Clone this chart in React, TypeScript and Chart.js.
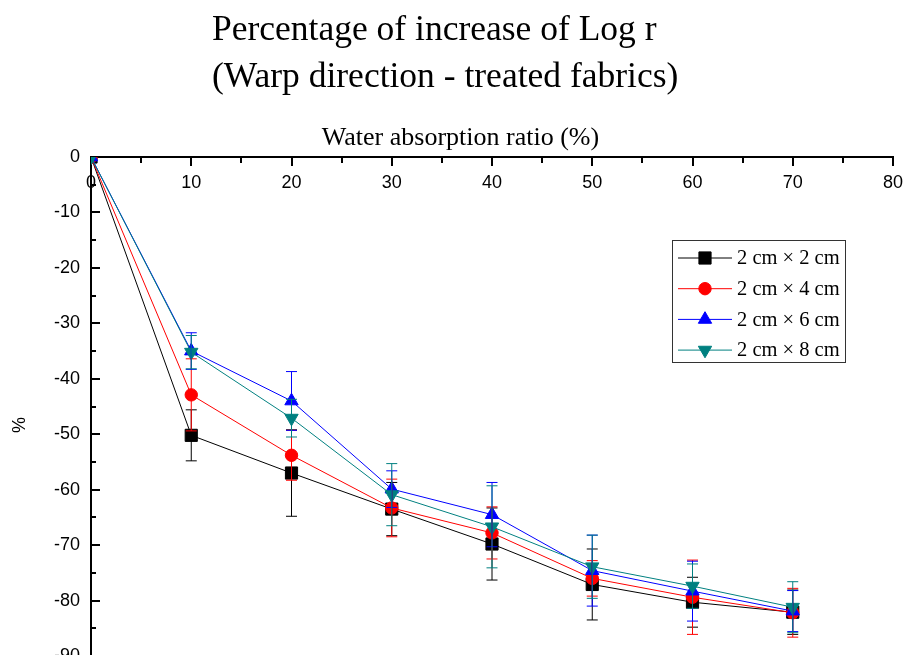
import React, { useEffect, useRef } from 'react';
import { Chart, registerables } from 'chart.js';

Chart.register(...registerables);

// ---- data ----
const xValues = [0, 10, 20, 30, 40, 50, 60, 70];
const xTickValues = [0, 10, 20, 30, 40, 50, 60, 70, 80];

const names = ['2 cm \u00d7 2 cm', '2 cm \u00d7 4 cm', '2 cm \u00d7 6 cm', '2 cm \u00d7 8 cm'];

const values2x2 = [0, -50.2, -57.0, -63.5, -69.8, -77.1, -80.3, -82.1];
const errors2x2 = [0, 4.6, 7.8, 4.8, 6.5, 6.4, 4.5, 4.0];

const values2x4 = [0, -42.9, -53.8, -63.3, -67.8, -76.0, -79.4, -82.2];
const errors2x4 = [0, 6.5, 4.5, 5.2, 4.7, 3.2, 6.7, 4.4];

const values2x6 = [0, -35.0, -44.0, -59.9, -64.5, -74.6, -78.3, -81.9];
const errors2x6 = [0, 3.3, 5.3, 3.3, 5.8, 6.4, 5.4, 3.7];

const values2x8 = [0, -35.2, -47.1, -60.9, -66.7, -73.9, -77.4, -81.2];
const errors2x8 = [0, 3.0, 3.4, 5.6, 7.4, 5.7, 4.0, 4.6];

const titleLines = ['Percentage of increase of Log r', '(Warp direction - treated fabrics)'];
const xAxisTitle = 'Water absorption ratio (%)';
const yAxisTitle = '%';

// ---- styles ----
const series = [
  { name: names[0], values: values2x2, errors: errors2x2, color: '#000000', style: 'rect', radius: 8.6, rotation: 0 },
  { name: names[1], values: values2x4, errors: errors2x4, color: '#ff0000', style: 'circle', radius: 6.2, rotation: 0 },
  { name: names[2], values: values2x6, errors: errors2x6, color: '#0000ff', style: 'triangle', radius: 7.7, rotation: 0 },
  { name: names[3], values: values2x8, errors: errors2x8, color: '#008080', style: 'triangle', radius: 7.7, rotation: 180 },
];

const SERIF = "'Liberation Serif', 'Times New Roman', serif";
const SANS = "'Liberation Sans', Arial, sans-serif";

function drawMarker(ctx: CanvasRenderingContext2D, style: string, x: number, y: number, r: number, rotation: number, color: string) {
  ctx.save();
  ctx.fillStyle = color;
  ctx.strokeStyle = color;
  ctx.lineWidth = 1;
  ctx.beginPath();
  if (style === 'rect') {
    const s = Math.SQRT1_2 * r;
    ctx.rect(x - s, y - s, 2 * s, 2 * s);
  } else if (style === 'circle') {
    ctx.arc(x, y, r, 0, Math.PI * 2);
  } else {
    const rad0 = (rotation * Math.PI) / 180;
    for (let k = 0; k < 3; k++) {
      const a = rad0 + (k * 2 * Math.PI) / 3;
      const px = x + Math.sin(a) * r;
      const py = y - Math.cos(a) * r;
      if (k === 0) ctx.moveTo(px, py);
      else ctx.lineTo(px, py);
    }
    ctx.closePath();
  }
  ctx.fill();
  ctx.stroke();
  ctx.restore();
}

const decorPlugin = {
  id: 'decor',
  afterDatasetsDraw(chart: any) {
    const { ctx, scales } = chart;
    const xs = scales.x;
    const ys = scales.y;
    ctx.save();
    ctx.lineWidth = 1;
    series.forEach((s) => {
      ctx.strokeStyle = s.color;
      xValues.forEach((xv, i) => {
        const e = s.errors[i];
        if (!e) return;
        const x = xs.getPixelForValue(xv);
        const yTop = ys.getPixelForValue(s.values[i] + e);
        const yBot = ys.getPixelForValue(s.values[i] - e);
        ctx.beginPath();
        ctx.moveTo(x, yTop);
        ctx.lineTo(x, yBot);
        ctx.moveTo(x - 5.5, yTop);
        ctx.lineTo(x + 5.5, yTop);
        ctx.moveTo(x - 5.5, yBot);
        ctx.lineTo(x + 5.5, yBot);
        ctx.stroke();
      });
    });
    ctx.restore();
  },
  afterDraw(chart: any) {
    const { ctx, chartArea, scales } = chart;
    const xs = scales.x;
    const ys = scales.y;
    ctx.save();
    // chart title (two left-aligned lines)
    ctx.fillStyle = '#000';
    ctx.font = `35.5px ${SERIF}`;
    ctx.textAlign = 'left';
    ctx.textBaseline = 'middle';
    titleLines.forEach((line, i) => {
      ctx.fillText(line, 204, 23 + i * 47);
    });
    // inward major / minor tick marks
    ctx.strokeStyle = '#000';
    ctx.lineWidth = 2;
    for (let v = xs.min + 5; v <= xs.max; v += 5) {
      const x = Math.round(xs.getPixelForValue(v));
      const len = v % 10 === 0 ? 9 : 6;
      ctx.beginPath();
      ctx.moveTo(x, chartArea.top);
      ctx.lineTo(x, chartArea.top + len);
      ctx.stroke();
    }
    for (let v = ys.min; v < ys.max; v += 5) {
      const y = Math.round(ys.getPixelForValue(v));
      const len = v % 10 === 0 ? 9 : 5;
      ctx.beginPath();
      ctx.moveTo(chartArea.left, y);
      ctx.lineTo(chartArea.left + len, y);
      ctx.stroke();
    }
    // x tick labels (inside, below the top axis)
    ctx.font = `18px ${SANS}`;
    ctx.textAlign = 'center';
    ctx.textBaseline = 'middle';
    xTickValues.forEach((v) => {
      ctx.fillText(String(v), xs.getPixelForValue(v), chartArea.top + 26);
    });
    // axis titles
    ctx.font = `26px ${SERIF}`;
    ctx.fillText(xAxisTitle, chartArea.left + 369.5, chartArea.top - 19);
    ctx.save();
    ctx.translate(12, chartArea.top + 268);
    ctx.rotate(-Math.PI / 2);
    ctx.font = `18px ${SANS}`;
    ctx.fillText(yAxisTitle, 0, 0);
    ctx.restore();
    // legend
    const bx = chartArea.right - 221;
    const by = chartArea.top + 83;
    const bw = 173;
    const bh = 122;
    ctx.fillStyle = '#fff';
    ctx.fillRect(bx, by, bw, bh);
    ctx.strokeStyle = '#333';
    ctx.lineWidth = 1;
    ctx.strokeRect(bx + 0.5, by + 0.5, bw, bh);
    ctx.font = `20.5px ${SERIF}`;
    ctx.textAlign = 'left';
    ctx.textBaseline = 'middle';
    series.forEach((s, k) => {
      const cy = by + 18 + k * 30.7;
      ctx.strokeStyle = s.color;
      ctx.lineWidth = 1;
      ctx.beginPath();
      ctx.moveTo(bx + 6, cy);
      ctx.lineTo(bx + 60, cy);
      ctx.stroke();
      drawMarker(ctx, s.style, bx + 33, cy, s.radius, s.rotation, s.color);
      ctx.fillStyle = '#000';
      ctx.fillText(s.name, bx + 65, cy + 1);
    });
    ctx.restore();
  },
};

export default function App() {
  const ref = useRef<HTMLCanvasElement>(null);
  useEffect(() => {
    const canvas = ref.current;
    if (!canvas) return;
    const datasets = series.map((s, k) => ({
      label: s.name,
      data: xValues.map((x, i) => ({ x, y: s.values[i] })),
      borderColor: s.color,
      backgroundColor: s.color,
      borderWidth: 1,
      pointStyle: s.style,
      pointRadius: s.radius,
      pointRotation: s.rotation,
      pointBackgroundColor: s.color,
      pointBorderColor: s.color,
      pointBorderWidth: 1,
      order: 4 - k,
      tension: 0,
      fill: false,
    }));
    const chart = new Chart(canvas, {
      type: 'line',
      data: { datasets } as any,
      plugins: [decorPlugin as any],
      options: {
        animation: false,
        responsive: true,
        maintainAspectRatio: false,
        events: [],
        layout: { autoPadding: false, padding: { left: 0, right: 10, top: 89, bottom: 7 } },
        plugins: {
          legend: { display: false },
          tooltip: { enabled: false },
          title: { display: false },
        },
        scales: {
          x: {
            type: 'linear',
            position: 'top',
            min: 0,
            max: 80,
            ticks: { display: false, stepSize: 10 },
            grid: { display: false, drawTicks: false },
            border: { display: true, color: '#000', width: 2 },
            title: { display: false },
            afterFit: (scale: any) => {
              scale.height = 60;
              scale.paddingLeft = 0;
              scale.paddingRight = 0;
            },
          },
          y: {
            type: 'linear',
            position: 'left',
            min: -90,
            max: 0,
            ticks: {
              stepSize: 10,
              padding: 11,
              color: '#000',
              font: { family: SANS, size: 18, lineHeight: 0.3 },
            },
            grid: { display: false, drawTicks: false },
            border: { display: true, color: '#000', width: 2 },
            title: { display: false },
            afterFit: (scale: any) => {
              scale.width = 83;
              scale.paddingTop = 0;
              scale.paddingBottom = 0;
            },
          },
        },
      } as any,
    });
    return () => chart.destroy();
  }, []);
  return (
    <div style={{ position: 'relative', width: 895, height: 655, marginBottom: -8 }}>
      <canvas ref={ref} style={{ display: 'block' }} />
    </div>
  );
}
